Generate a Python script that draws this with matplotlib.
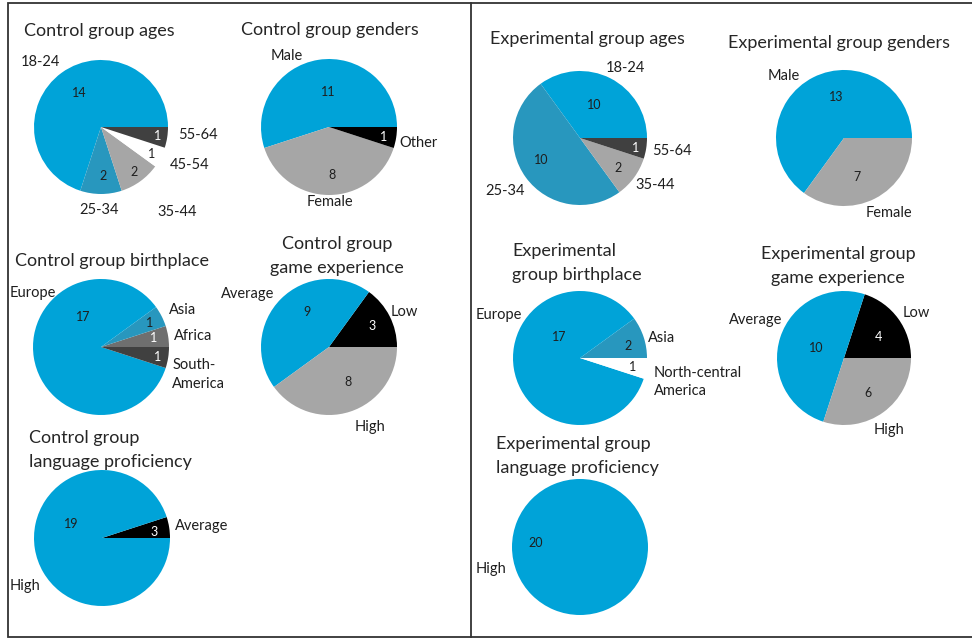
import numpy as np
import matplotlib
matplotlib.use('Agg')
import matplotlib.pyplot as plt
from matplotlib.patches import Rectangle
from matplotlib.lines import Line2D

plt.rcParams['font.family'] = ['Lato', 'DejaVu Sans']

W, H = 972, 642

BLUE = '#00a3d8'
TEAL = '#2897be'
GRAY = '#a6a6a6'
MIDGRAY = '#6f6f6f'
DARK = '#404040'
BLACK = '#000000'
WHITE = '#ffffff'
INK = '#1e1e1e'

# ---- data (slices go counter-clockwise from 3 o'clock) ----
ctrl_age_names = ['18-24', '25-34', '35-44', '45-54', '55-64']
ctrl_age_counts = [14, 2, 2, 1, 1]

ctrl_gender_names = ['Male', 'Female', 'Other']
ctrl_gender_counts = [11, 8, 1]

exp_age_names = ['18-24', '25-34', '35-44', '55-64']
exp_age_counts = [7, 10, 2, 1]
exp_age_printed = [10, 10, 2, 1]      # numbers written on the original chart

exp_gender_names = ['Male', 'Female']
exp_gender_counts = [13, 7]

ctrl_birth_names = ['Africa', 'Asia', 'Europe', 'South-\nAmerica']
ctrl_birth_counts = [1, 1, 17, 1]

ctrl_game_names = ['Low', 'Average', 'High']
ctrl_game_counts = [3, 9, 8]

exp_birth_names = ['Asia', 'Europe', 'North-central\nAmerica']
exp_birth_counts = [2, 17, 1]

exp_game_names = ['Low', 'Average', 'High']
exp_game_counts = [4, 10, 6]

ctrl_lang_names = ['Average', 'High']
ctrl_lang_counts = [1, 19]
ctrl_lang_printed = [3, 19]           # numbers written on the original chart

exp_lang_names = ['High']
exp_lang_counts = [20]

fig = plt.figure(figsize=(W / 100, H / 100), dpi=100)


def px(x, y):
    return x / W, 1 - y / H


def draw_pie(cx, cy, r, counts, names, colors, num_colors, num_pos, cat_pos,
             printed=None, cat_ha=None):
    ax = fig.add_axes([(cx - r) / W, 1 - (cy + r) / H, 2 * r / W, 2 * r / H])
    wedges, _ = ax.pie(counts, colors=colors, startangle=0, counterclock=True,
                       radius=1, wedgeprops=dict(linewidth=0))
    ax.set_xlim(-1, 1)
    ax.set_ylim(-1, 1)
    ax.axis('off')
    if printed is None:
        printed = counts
    if cat_ha is None:
        cat_ha = ['center'] * len(counts)
    for i, w in enumerate(wedges):
        mid = (w.theta1 + w.theta2) / 2
        d, da = num_pos[i]
        a = np.radians(mid + da)
        ax.text(d * np.cos(a), d * np.sin(a), str(printed[i]), ha='center',
                va='center', fontsize=9, color=num_colors[i])
        d, da = cat_pos[i]
        a = np.radians(mid + da)
        ax.text(d * np.cos(a), d * np.sin(a), names[i], ha=cat_ha[i],
                va='center', fontsize=10.5, color=INK, linespacing=1.45)


def title(x, y, s, ha='left'):
    fx, fy = px(x, y)
    fig.text(fx, fy, s, ha=ha, va='center', fontsize=13, color='#262626',
             linespacing=1.6)


# frames
fig.add_artist(Rectangle(px(8, 637), (471 - 8) / W, (637 - 3) / H,
                         transform=fig.transFigure, fill=False,
                         edgecolor='#333333', linewidth=1.3))
for yy in (3, 637):
    x0, y0 = px(471, yy)
    fig.add_artist(Line2D([x0, 1], [y0, y0], transform=fig.transFigure,
                          color='#333333', linewidth=1.3))

# control group ages
title(24, 31, 'Control group ages')
draw_pie(101, 127, 67, ctrl_age_counts, ctrl_age_names,
         [BLUE, TEAL, GRAY, WHITE, DARK],
         [INK, INK, INK, INK, WHITE],
         [(0.60, -4), (0.73, 2), (0.83, 0), (0.85, -1), (0.85, 0)],
         [(1.33, 7), (1.24, -1), (1.70, 6), (1.44, 4), (1.45, 4)])

# control group genders
title(241, 30, 'Control group genders')
draw_pie(329, 127, 68, ctrl_gender_counts, ctrl_gender_names,
         [BLUE, GRAY, BLACK], [INK, INK, WHITE],
         [(0.51, -7), (0.71, 4), (0.81, -1)],
         [(1.22, 22), (1.10, 1), (1.33, -1)])

# experimental group ages
title(490, 39, 'Experimental group ages')
draw_pie(580, 138, 67, exp_age_counts, exp_age_names,
         [BLUE, TEAL, GRAY, DARK], [INK, INK, INK, WHITE],
         [(0.54, 4), (0.66, -6), (0.72, -2), (0.85, -1)],
         [(1.24, -6), (1.37, -1), (1.32, 4), (1.39, 1)],
         printed=exp_age_printed)

# experimental group genders
title(728, 43, 'Experimental group genders')
draw_pie(844, 138, 68, exp_gender_counts, exp_gender_names,
         [BLUE, GRAY], [INK, INK],
         [(0.61, -16), (0.60, -9)],
         [(1.27, 17), (1.29, 4)])

# control group birthplace
title(15, 261, 'Control group birthplace')
draw_pie(101, 347, 68, ctrl_birth_counts, ctrl_birth_names,
         [MIDGRAY, TEAL, BLUE, DARK], [WHITE, INK, INK, WHITE],
         [(0.78, 1), (0.80, -1), (0.51, -68), (0.85, -1)],
         [(1.36, -2), (1.32, -3), (1.28, -47), (1.12, -12)],
         cat_ha=['center', 'center', 'center', 'left'])

# control group game experience
title(337, 256, 'Control group\ngame experience', ha='center')
draw_pie(329, 347, 68, ctrl_game_counts, ctrl_game_names,
         [BLACK, BLUE, GRAY], [WHITE, INK, INK],
         [(0.70, -1), (0.61, -13), (0.59, 10)],
         [(1.22, -2), (1.43, 12), (1.32, 9)])

# experimental group birthplace
title(512, 263, 'Experimental\ngroup birthplace')
draw_pie(580, 358, 67, exp_birth_counts, exp_birth_names,
         [TEAL, BLUE, WHITE], [INK, INK, INK],
         [(0.74, -4), (0.44, -54), (0.80, -1)],
         [(1.26, -4), (1.37, -37), (1.16, -9)],
         cat_ha=['center', 'center', 'left'])

# experimental group game experience
title(838, 266, 'Experimental group\ngame experience', ha='center')
draw_pie(844, 358, 67, exp_game_counts, exp_game_names,
         [BLACK, BLUE, GRAY], [WHITE, INK, INK],
         [(0.60, -4), (0.44, -2), (0.63, -2)],
         [(1.28, -4), (1.44, -5), (1.27, -4)])

# control group language proficiency
title(29, 450, 'Control group\nlanguage proficiency')
draw_pie(102, 538, 68, ctrl_lang_counts, ctrl_lang_names,
         [BLACK, BLUE], [WHITE, INK],
         [(0.77, -2), (0.50, -33)],
         [(1.48, -2), (1.34, 23)],
         printed=ctrl_lang_printed)

# experimental group language proficiency
title(496, 456, 'Experimental group\nlanguage proficiency')
draw_pie(580, 547, 68, exp_lang_counts, exp_lang_names,
         [BLUE], [INK],
         [(0.65, -5)],
         [(1.35, 14)])

fig.savefig('out.png', dpi=100)
